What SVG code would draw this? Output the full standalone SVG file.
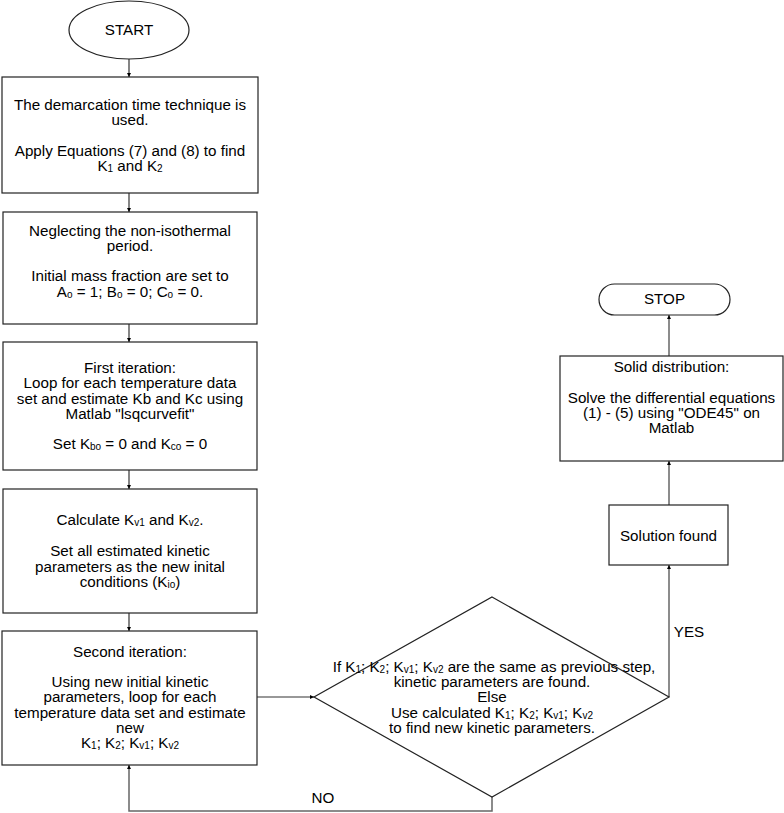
<svg xmlns="http://www.w3.org/2000/svg" width="784" height="813" viewBox="0 0 784 813">
<defs>
<marker id="arr" viewBox="0 0 6 6" refX="6" refY="3" markerWidth="4" markerHeight="4" markerUnits="userSpaceOnUse" orient="auto">
<path d="M0,0 L6,3 L0,6 z" fill="#000"/>
</marker>
<style>
.shape{fill:#fff;stroke:#222;stroke-width:1.2}
.t{font-family:"Liberation Sans",Arial,sans-serif;font-size:15.2px;fill:#000;text-anchor:middle}
.s{font-size:10px}
.con{fill:none;stroke:#333;stroke-width:1.2}
.gray{stroke:#666;stroke-width:1.5}
</style>
</defs>
<rect width="784" height="813" fill="#fff"/>

<g id="connectors">
<path class="con" d="M129,59 V77" marker-end="url(#arr)"/>
<path class="con" d="M129,193 V212" marker-end="url(#arr)"/>
<path class="con" d="M129,324 V342" marker-end="url(#arr)"/>
<path class="con" d="M129,470 V489" marker-end="url(#arr)"/>
<path class="con" d="M129,613 V631" marker-end="url(#arr)"/>
<path class="con" d="M257,697 H314" marker-end="url(#arr)"/>
<path class="con gray" d="M492,797 V811 H129 V765" marker-end="url(#arr)"/>
<path class="con gray" d="M669,697 V565" marker-end="url(#arr)"/>
<path class="con gray" d="M669,505 V461" marker-end="url(#arr)"/>
<path class="con gray" d="M669,356 V315" marker-end="url(#arr)"/>
<text class="t" x="323" y="803">NO</text>
<text class="t" x="689" y="637">YES</text>
</g>

<g id="start">
<ellipse class="shape" cx="129" cy="30" rx="60" ry="29"/>
<text class="t" x="129" y="35">START</text>
</g>

<g id="box1">
<rect class="shape" x="2" y="77" width="256" height="116"/>
<text class="t" x="130" y="110">The demarcation time technique is</text>
<text class="t" x="130" y="125">used.</text>
<text class="t" x="130" y="156">Apply Equations (7) and (8) to find</text>
<text class="t" x="130" y="171">K<tspan class="s" dy="1">1</tspan><tspan dy="-1"> and K</tspan><tspan class="s" dy="1">2</tspan></text>
</g>

<g id="box2">
<rect class="shape" x="3" y="212" width="254" height="112"/>
<text class="t" x="130" y="236">Neglecting the non-isothermal</text>
<text class="t" x="130" y="251">period.</text>
<text class="t" x="130" y="281">Initial mass fraction are set to</text>
<text class="t" x="130" y="297">A<tspan class="s" dy="1">o</tspan><tspan dy="-1"> = 1; B</tspan><tspan class="s" dy="1">o</tspan><tspan dy="-1"> = 0; C</tspan><tspan class="s" dy="1">o</tspan><tspan dy="-1"> = 0.</tspan></text>
</g>

<g id="box3">
<rect class="shape" x="3" y="342" width="254" height="128"/>
<text class="t" x="130" y="373">First iteration:</text>
<text class="t" x="130" y="388">Loop for each temperature data</text>
<text class="t" x="130" y="404">set and estimate Kb and Kc using</text>
<text class="t" x="130" y="419">Matlab "lsqcurvefit"</text>
<text class="t" x="130" y="449">Set K<tspan class="s" dy="1">bo</tspan><tspan dy="-1"> = 0 and K</tspan><tspan class="s" dy="1">co</tspan><tspan dy="-1"> = 0</tspan></text>
</g>

<g id="box4">
<rect class="shape" x="3" y="489" width="254" height="124"/>
<text class="t" x="130" y="525">Calculate K<tspan class="s" dy="1">v1</tspan><tspan dy="-1"> and K</tspan><tspan class="s" dy="1">v2</tspan><tspan dy="-1">.</tspan></text>
<text class="t" x="130" y="556">Set all estimated kinetic</text>
<text class="t" x="130" y="572">parameters as the new inital</text>
<text class="t" x="130" y="587">conditions (K<tspan class="s" dy="1">io</tspan><tspan dy="-1">)</tspan></text>
</g>

<g id="box5">
<rect class="shape" x="2" y="631" width="255" height="134"/>
<text class="t" x="130" y="657">Second iteration:</text>
<text class="t" x="130" y="687">Using new initial kinetic</text>
<text class="t" x="130" y="702">parameters, loop for each</text>
<text class="t" x="130" y="718">temperature data set and estimate</text>
<text class="t" x="130" y="733">new</text>
<text class="t" x="130" y="748">K<tspan class="s" dy="1">1</tspan><tspan dy="-1">; K</tspan><tspan class="s" dy="1">2</tspan><tspan dy="-1">; K</tspan><tspan class="s" dy="1">v1</tspan><tspan dy="-1">; K</tspan><tspan class="s" dy="1">v2</tspan></text>
</g>

<g id="decision">
<polygon class="shape" points="492,597 669,697 492,797 314,697" style="fill:none"/>
<text class="t" x="494" y="672">If K<tspan class="s" dy="1">1</tspan><tspan dy="-1">; K</tspan><tspan class="s" dy="1">2</tspan><tspan dy="-1">; K</tspan><tspan class="s" dy="1">v1</tspan><tspan dy="-1">; K</tspan><tspan class="s" dy="1">v2</tspan><tspan dy="-1"> are the same as previous step,</tspan></text>
<text class="t" x="492" y="687">kinetic parameters are found.</text>
<text class="t" x="492" y="702">Else</text>
<text class="t" x="492" y="718">Use calculated K<tspan class="s" dy="1">1</tspan><tspan dy="-1">; K</tspan><tspan class="s" dy="1">2</tspan><tspan dy="-1">; K</tspan><tspan class="s" dy="1">v1</tspan><tspan dy="-1">; K</tspan><tspan class="s" dy="1">v2</tspan></text>
<text class="t" x="492" y="733">to find new kinetic parameters.</text>
</g>

<g id="solution">
<rect class="shape" x="609" y="505" width="119" height="60"/>
<text class="t" x="668.5" y="541">Solution found</text>
</g>

<g id="solid">
<rect class="shape" x="560" y="356" width="223" height="105"/>
<text class="t" x="671.5" y="372">Solid distribution:</text>
<text class="t" x="671.5" y="403">Solve the differential equations</text>
<text class="t" x="671.5" y="418">(1) - (5) using "ODE45" on</text>
<text class="t" x="671.5" y="433">Matlab</text>
</g>

<g id="stop">
<rect class="shape" x="599" y="284" width="131" height="31" rx="15.5" ry="15.5"/>
<text class="t" x="664.5" y="304">STOP</text>
</g>
</svg>
